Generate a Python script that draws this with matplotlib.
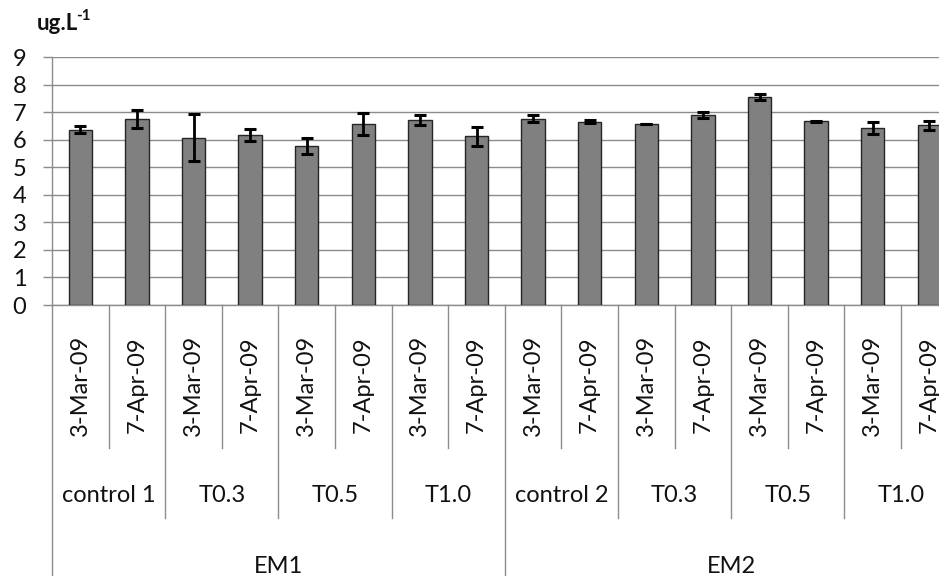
import matplotlib
matplotlib.use("Agg")
import matplotlib.pyplot as plt
from matplotlib.transforms import blended_transform_factory

# Chlorophyll-a concentration by sampling date, treatment and EM batch
dates = ["3-Mar-09", "7-Apr-09"] * 8
treatments = ["control 1", "T0.3", "T0.5", "T1.0",
              "control 2", "T0.3", "T0.5", "T1.0"]
batches = ["EM1", "EM2"]
values = [6.36, 6.76, 6.07, 6.16, 5.77, 6.57, 6.71, 6.12,
          6.76, 6.65, 6.56, 6.91, 7.56, 6.66, 6.42, 6.52]
errors = [0.13, 0.32, 0.85, 0.21, 0.29, 0.40, 0.19, 0.34,
          0.13, 0.05, 0.00, 0.11, 0.11, 0.03, 0.21, 0.16]
yticks = list(range(0, 10))

W, H = 939, 576
plt.rcParams["font.family"] = ["Lato", "DejaVu Sans"]

fig = plt.figure(figsize=(W / 100, H / 100), dpi=100)
fig.patch.set_facecolor("white")


def fx(px):
    return px / W


def fy(px):
    return 1 - px / H


cat_w = 56.6
left_px, top_px, base_px = 52, 57, 305
ax = fig.add_axes([fx(left_px), fy(base_px),
                   fx(cat_w * len(values)), (base_px - top_px) / H])

x = list(range(len(values)))
ax.bar(x, values, width=0.41, color="#808080", edgecolor="#262626",
       linewidth=1.0, zorder=3)
ax.errorbar(x, values, yerr=errors, fmt="none", ecolor="black",
            elinewidth=2.0, capsize=4.6, capthick=2.2, zorder=4)

ax.set_xlim(-0.5, len(values) - 0.5)
ax.set_ylim(0, 9)
ax.set_yticks(yticks)
ax.set_yticklabels([str(t) for t in yticks], fontsize=17, color="#111111")
ax.tick_params(axis="y", length=6.5, width=1.0, color="#8c8c8c", pad=12)
ax.set_xticks([])
ax.grid(axis="y", color="#8c8c8c", linewidth=1.0, zorder=0)
ax.set_axisbelow(True)
for side in ("top", "right"):
    ax.spines[side].set_visible(False)
for side in ("left", "bottom"):
    ax.spines[side].set_color("#8c8c8c")
    ax.spines[side].set_linewidth(1.0)

# multi-level category axis drawn below the plot
tr = blended_transform_factory(ax.transData, fig.transFigure)
for i in range(len(values) + 1):
    xb = i - 0.5
    if i % 8 == 0:
        end = 576
    elif i % 2 == 0:
        end = 518
    else:
        end = 448
    ax.plot([xb, xb], [fy(base_px), fy(end)], color="#8c8c8c",
            linewidth=1.0, transform=tr, clip_on=False, zorder=2)

for i, d in enumerate(dates):
    ax.text(i, fy(385), d, rotation=90, ha="center", va="center",
            fontsize=17, color="#111111", transform=tr, clip_on=False)
for k, t in enumerate(treatments):
    ax.text(2 * k + 0.5, fy(495), t, ha="center", va="center",
            fontsize=17, color="#111111", transform=tr, clip_on=False)
for k, b in enumerate(batches):
    ax.text(8 * k + 3.5, fy(556), b, ha="center", va="top",
            fontsize=17, color="#111111", transform=tr, clip_on=False)

# unit label with superscript placed right after the base text
unit = fig.text(fx(37), fy(30), "ug.L", fontsize=16, fontweight="bold",
                color="#111111", ha="left", va="baseline")
renderer = fig.canvas.get_renderer()
bb = unit.get_window_extent(renderer=renderer)
fig.text(bb.x1 / W - fx(2), fy(20), "-1", fontsize=11, fontweight="bold",
         color="#111111", ha="left", va="baseline")

fig.savefig("out.png", dpi=100)
